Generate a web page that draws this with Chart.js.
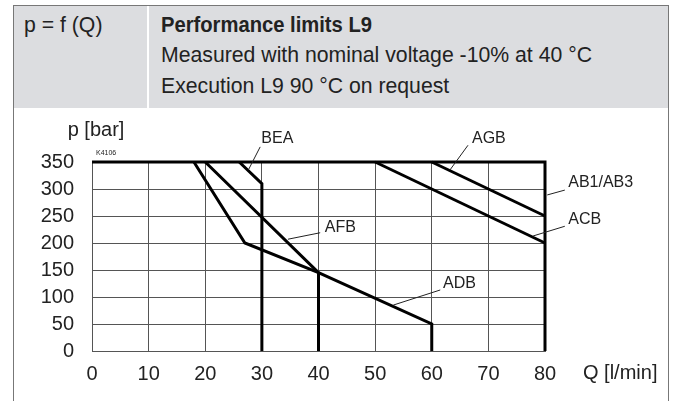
<!DOCTYPE html>
<html>
<head>
<meta charset="utf-8">
<script src="https://cdn.jsdelivr.net/npm/chart.js@4"></script>
<style>
  html, body { margin: 0; padding: 0; background: #fff; }
  body { width: 678px; height: 401px; position: relative; overflow: hidden; }
  #chartBox { position: absolute; left: 0; top: 0; width: 678px; height: 401px; }
  #frame { position: absolute; left: 13px; top: 5px; width: 654px; height: 420px;
           border: 1px solid #777; border-bottom: none; }
  #head { position: absolute; left: 14px; top: 6px; width: 654px; height: 102px; background: #dcdde0; }
  #divider { position: absolute; left: 147px; top: 6px; width: 2px; height: 102px; background: #fff; }
  .ht { position: absolute; font-family: "Liberation Sans", Arial, sans-serif;
        font-size: 22px; color: #222; white-space: nowrap; line-height: 1; transform-origin: 0 0; }
</style>
</head>
<body>
<div id="chartBox"><canvas id="perf" width="678" height="401"></canvas></div>
<div id="head"></div>
<div id="divider"></div>
<div id="frame"></div>
<div class="ht" id="h0" style="left:24px; top:14px;">p = f (Q)</div>
<div class="ht" id="h1" style="left:161px; top:14px; font-weight:bold;">Performance limits L9</div>
<div class="ht" id="h2" style="left:161px; top:44px;">Measured with nominal voltage -10% at 40 °C</div>
<div class="ht" id="h3" style="left:161px; top:75px;">Execution L9 90 °C on request</div>
<script>
// axis ticks
var qTicks = [0, 10, 20, 30, 40, 50, 60, 70, 80];
var pTicks = [0, 50, 100, 150, 200, 250, 300, 350];

// limit curves, Q in l/min and p in bar
var seriesNames = ['AB1/AB3', 'BEA', 'ADB', 'AFB', 'ACB', 'AGB'];
var q_AB = [0, 80, 80];        var p_AB = [350, 350, 0];
var q_BEA = [26, 30, 30];      var p_BEA = [350, 310, 0];
var q_ADB = [18, 27, 40, 60, 60]; var p_ADB = [350, 200, 145, 50, 0];
var q_AFB = [20, 40, 40];      var p_AFB = [350, 145, 0];
var q_ACB = [50, 80];          var p_ACB = [350, 200];
var q_AGB = [60, 80];          var p_AGB = [350, 250];

// curve labels: text spot and leader line, in data units
var labelQ  = [84.1, 29.9, 62.0, 41.1, 84.1, 67.1];
var labelP  = [311, 393, 124, 228, 243, 394];
var leadQ1  = [80.4, 27.6, 53.2, 34.6, 77.9, 63.2];
var leadP1  = [289, 335, 85, 207, 213, 335];
var leadQ2  = [83.5, 29.7, 61.5, 40.3, 83.5, 66.4];
var leadP2  = [298, 378, 113, 219, 231, 381];

// squeeze the header text to look condensed
(function () {
    var m = document.createElement('canvas').getContext('2d');
    m.font = '22px "Liberation Sans", Arial, sans-serif';
    var k = 431 / m.measureText(document.getElementById('h2').textContent).width;
    ['h0', 'h2', 'h3'].forEach(function (id) {
        document.getElementById(id).style.transform = 'scaleX(' + k + ')';
    });
    m.font = 'bold 22px "Liberation Sans", Arial, sans-serif';
    var kb = 211 / m.measureText(document.getElementById('h1').textContent).width;
    document.getElementById('h1').style.transform = 'scaleX(' + kb + ')';
})();

function pts(q, p) {
    return q.map(function (v, i) { return { x: v, y: p[i] }; });
}

var curves = [pts(q_AB, p_AB), pts(q_BEA, p_BEA), pts(q_ADB, p_ADB),
              pts(q_AFB, p_AFB), pts(q_ACB, p_ACB), pts(q_AGB, p_AGB)];

var sets = curves.map(function (d, i) {
    return {
        label: seriesNames[i],
        data: d,
        showLine: true,
        borderColor: '#000',
        borderWidth: 3,
        pointRadius: 0,
        fill: false,
        clip: false,
        borderJoinStyle: 'miter'
    };
});

/* labels, leaders and axis titles */
var annotate = {
    id: 'annotate',
    afterDatasetsDraw: function (chart) {
        var ctx = chart.ctx, xs = chart.scales.x, ys = chart.scales.y;
        ctx.save();
        ctx.strokeStyle = '#222';
        ctx.lineWidth = 1;
        ctx.fillStyle = '#222';
        ctx.font = '16px "Liberation Sans", Arial, sans-serif';
        ctx.textBaseline = 'middle';
        ctx.textAlign = 'left';
        seriesNames.forEach(function (name, i) {
            ctx.beginPath();
            ctx.moveTo(xs.getPixelForValue(leadQ1[i]), ys.getPixelForValue(leadP1[i]));
            ctx.lineTo(xs.getPixelForValue(leadQ2[i]), ys.getPixelForValue(leadP2[i]));
            ctx.stroke();
            ctx.fillText(name, xs.getPixelForValue(labelQ[i]), ys.getPixelForValue(labelP[i]));
        });

        ctx.font = '20px "Liberation Sans", Arial, sans-serif';
        ctx.textAlign = 'center';
        ctx.fillText('p [bar]', xs.left + 4, ys.top - 32);
        ctx.textAlign = 'left';
        ctx.fillText('Q [l/min]', xs.right + 38, xs.top + 22);

        ctx.font = '7px "Liberation Sans", Arial, sans-serif';
        ctx.fillText('K4106', xs.left + 4, ys.top - 9);
        ctx.restore();
    }
};

var ctx = document.getElementById('perf');
new Chart(ctx, {
    type: 'scatter',
    data: { datasets: sets },
    options: {
        responsive: false,
        animation: false,
        layout: { padding: { top: 162, right: 133, left: 0, bottom: 0 } },
        plugins: { legend: { display: false }, tooltip: { enabled: false } },
        scales: {
            x: {
                type: 'linear', min: 0, max: 80,
                afterBuildTicks: function (s) { s.ticks = qTicks.map(function (v) { return { value: v }; }); },
                afterFit: function (s) { s.height = 50; },
                grid: { color: '#555', lineWidth: 1, drawTicks: false },
                border: { color: '#555', width: 1 },
                ticks: { color: '#222', padding: 11, font: { size: 20, family: '"Liberation Sans", Arial, sans-serif' } }
            },
            y: {
                type: 'linear', min: 0, max: 350,
                afterBuildTicks: function (s) { s.ticks = pTicks.map(function (v) { return { value: v }; }); },
                afterFit: function (s) { s.width = 92; },
                grid: { color: '#555', lineWidth: 1, drawTicks: false },
                border: { color: '#555', width: 1 },
                ticks: { color: '#222', padding: 18, font: { size: 20, family: '"Liberation Sans", Arial, sans-serif' } }
            }
        }
    },
    plugins: [annotate]
});
</script>
</body>
</html>
